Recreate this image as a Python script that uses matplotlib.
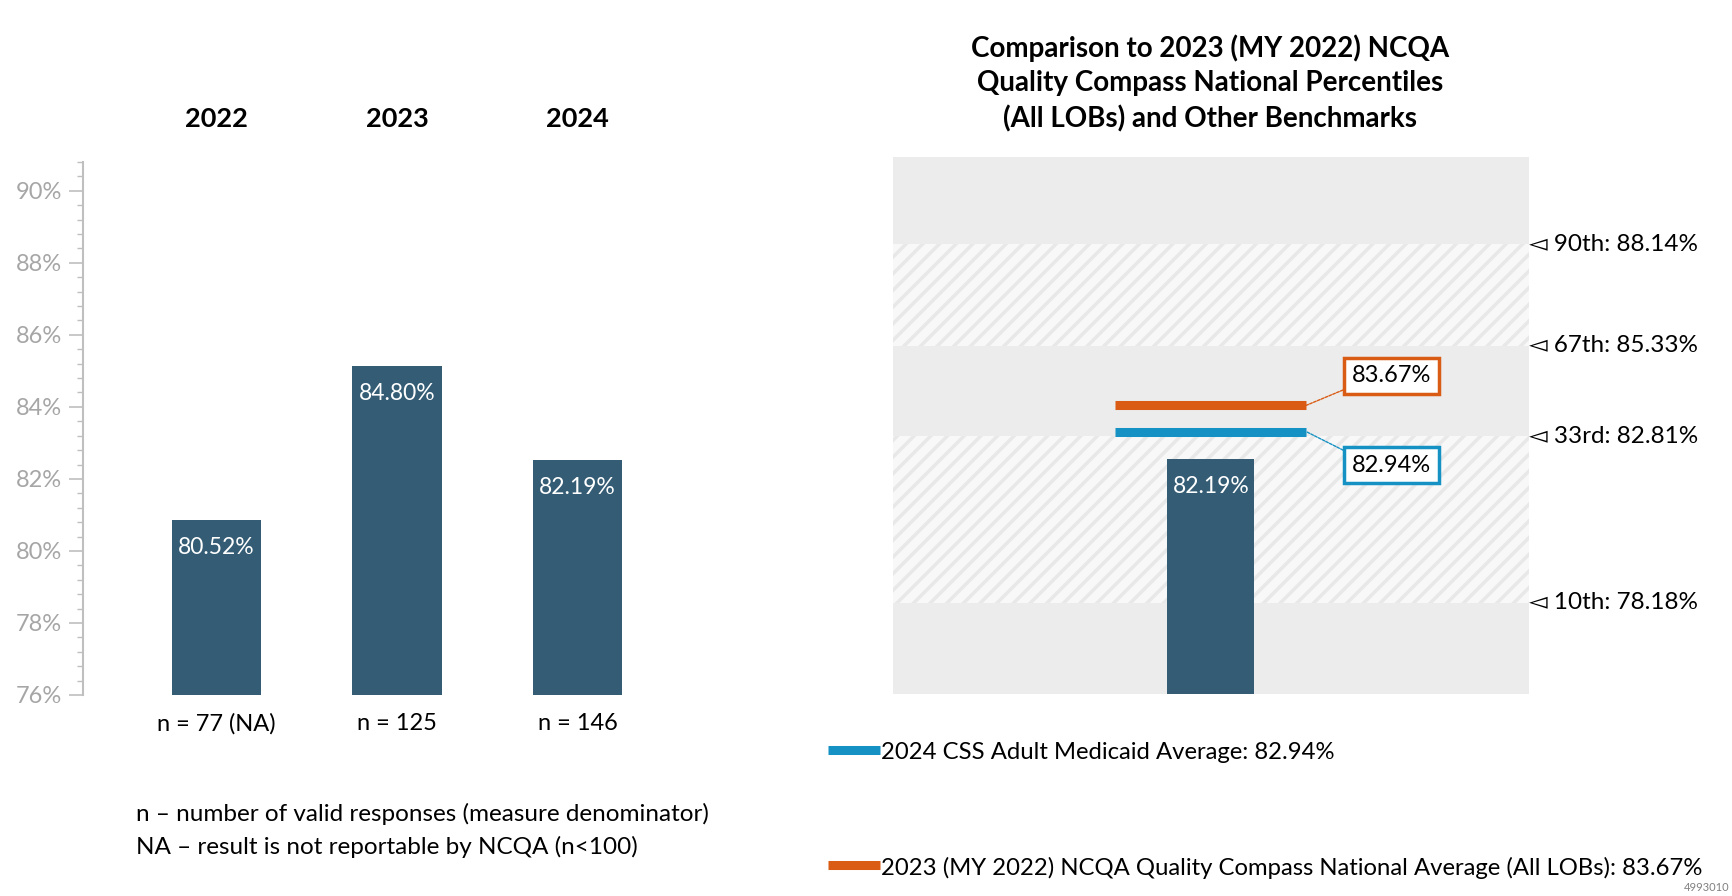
import numpy as np
import matplotlib
matplotlib.use('Agg')
import matplotlib.pyplot as plt

plt.rcParams['font.family'] = ['Lato', 'DejaVu Sans']
plt.rcParams['hatch.linewidth'] = 2.5

# data
years = ['2022', '2023', '2024']
rates = [80.52, 84.80, 82.19]
n_labels = ['n = 77 (NA)', 'n = 125', 'n = 146']
yticks = [76, 78, 80, 82, 84, 86, 88, 90]

pct_names = ['10th', '33rd', '67th', '90th']
pct_values = [78.18, 82.81, 85.33, 88.14]
css_avg = 82.94
ncqa_avg = 83.67
current = 82.19

bar_col = '#345c74'
blue = '#1592c3'
orange = '#d95b14'
grey_txt = '#a6a6a6'

W, H = 1732, 896
fig = plt.figure(figsize=(W / 100, H / 100), dpi=100)

def box(x0, y0, x1, y1):
    # pixel box (top-left origin) -> figure fraction
    return [x0 / W, 1 - y1 / H, (x1 - x0) / W, (y1 - y0) / H]

fs = 16.5

# ---------------- left panel ----------------
ax = fig.add_axes(box(83, 162, 711, 695))
x = np.arange(len(years))
ax.bar(x, rates, width=0.495, color=bar_col, zorder=2)
ax.set_ylim(75.65, 90.46)
ax.set_xlim(-0.738, 2.738)
for s in ax.spines.values():
    s.set_visible(False)
ax.set_xticks([]); ax.set_yticks([])
for xi, v, yr, nl in zip(x, rates, years, n_labels):
    ax.annotate(f'{v:.2f}%', (xi, v), xytext=(0, -20), textcoords='offset points',
                ha='center', va='center', color='white', fontsize=fs)
    ax.text(xi, 1.08, yr, transform=ax.get_xaxis_transform(), ha='center', va='center',
            fontsize=19.5, fontweight='bold')
    ax.text(xi, -0.054, nl, transform=ax.get_xaxis_transform(), ha='center', va='center',
            fontsize=17)

# tick axis
axt = fig.add_axes(box(83, 162, 711, 695))
axt.patch.set_alpha(0)
axt.set_ylim(76, 90.8)
axt.set_xticks([])
for k in ['top', 'right', 'bottom']:
    axt.spines[k].set_visible(False)
axt.spines['left'].set_color('#bfbfbf')
axt.spines['left'].set_linewidth(1.5)
axt.set_yticks(yticks)
axt.set_yticklabels([f'{t}%' for t in yticks], color=grey_txt, fontsize=17)
axt.set_yticks(np.arange(76, 90.81, 0.4), minor=True)
axt.tick_params(axis='y', which='major', length=10, color='#bfbfbf', width=1.2, pad=5)
axt.tick_params(axis='y', which='minor', length=4, color='#bfbfbf', width=1.0)

fig.text(136 / W, 1 - 814 / H, 'n – number of valid responses (measure denominator)',
         fontsize=17.5, va='center', ha='left')
fig.text(136 / W, 1 - 847 / H, 'NA – result is not reportable by NCQA (n<100)',
         fontsize=17.5, va='center', ha='left')

# ---------------- right panel ----------------
axr = fig.add_axes(box(892.5, 157, 1529, 694))
ylo, yhi = 75.65, 90.57
axr.set_ylim(ylo, yhi)
axr.set_xlim(-1, 1)
for s in axr.spines.values():
    s.set_visible(False)
axr.set_xticks([]); axr.set_yticks([])

edges = [ylo] + pct_values + [yhi]
for i in range(len(edges) - 1):
    if i % 2 == 0:
        axr.axhspan(edges[i], edges[i + 1], color='#ececec', lw=0, zorder=0)
    else:
        axr.axhspan(edges[i], edges[i + 1], facecolor='#f8f8f8', edgecolor='#e8e8e8',
                    hatch='//', lw=0, zorder=0)

axr.bar([0], [current], width=0.273, bottom=0, color=bar_col, zorder=2)
axr.annotate(f'{current:.2f}%', (0, current), xytext=(0, -20), textcoords='offset points',
             ha='center', va='center', color='white', fontsize=fs, zorder=3)

axr.plot([-0.3, 0.3], [css_avg, css_avg], color=blue, lw=6.5, solid_capstyle='butt', zorder=3)
axr.plot([-0.3, 0.3], [ncqa_avg, ncqa_avg], color=orange, lw=6.5, solid_capstyle='butt', zorder=3)

axr.annotate(f'{ncqa_avg:.2f}%', xy=(0.3, ncqa_avg), xytext=(0.568, ncqa_avg + 0.82),
             ha='center', va='center', fontsize=17,
             bbox=dict(boxstyle='square,pad=0.32', fc='white', ec=orange, lw=2.5),
             arrowprops=dict(arrowstyle='-', color=orange, lw=1, ls=(0, (2, 1)),
                             shrinkA=0, shrinkB=0, relpos=(0, 0)), zorder=4)
axr.annotate(f'{css_avg:.2f}%', xy=(0.3, css_avg), xytext=(0.568, css_avg - 0.93),
             ha='center', va='center', fontsize=17,
             bbox=dict(boxstyle='square,pad=0.32', fc='white', ec=blue, lw=2.5),
             arrowprops=dict(arrowstyle='-', color=blue, lw=1, ls=(0, (2, 1)),
                             shrinkA=0, shrinkB=0, relpos=(0, 1)), zorder=4)

for nm, v in zip(pct_names, pct_values):
    axr.text(1.0, v, f'◅ {nm}: {v:.2f}%', transform=axr.get_yaxis_transform(),
             ha='left', va='center', fontsize=17.5)

fig.text(1210 / W, 1 - 83 / H,
         'Comparison to 2023 (MY 2022) NCQA\nQuality Compass National Percentiles\n(All LOBs) and Other Benchmarks',
         ha='center', va='center', fontsize=20, fontweight='bold', linespacing=1.4)

# legend
fig.add_artist(plt.Line2D([828 / W, 880 / W], [1 - 750 / H] * 2, color=blue, lw=6.5,
                          solid_capstyle='butt'))
fig.text(881 / W, 1 - 752 / H, f'2024 CSS Adult Medicaid Average: {css_avg:.2f}%',
         ha='left', va='center', fontsize=17.2)
fig.add_artist(plt.Line2D([828 / W, 880 / W], [1 - 865 / H] * 2, color=orange, lw=6.5,
                          solid_capstyle='butt'))
fig.text(881 / W, 1 - 868 / H,
         f'2023 (MY 2022) NCQA Quality Compass National Average (All LOBs): {ncqa_avg:.2f}%',
         ha='left', va='center', fontsize=17.2)

fig.text(1729 / W, 1 - 887 / H, '4993010', ha='right', va='center', fontsize=8, color='#808080')

fig.savefig('out.png', dpi=100)
